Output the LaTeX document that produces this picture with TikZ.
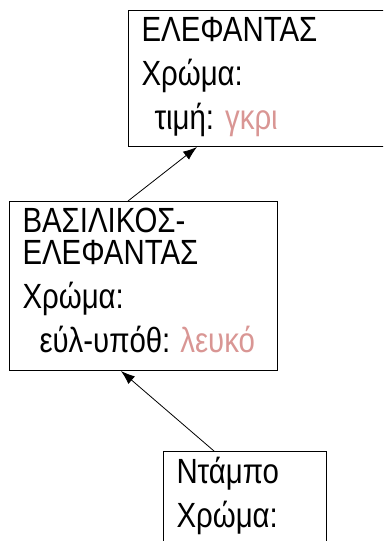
\documentclass[tikz,border=0pt]{standalone}
\usepackage{fontspec}
\setmainfont{Liberation Sans}[FakeStretch=0.84]
\usetikzlibrary{arrows.meta,positioning}
\definecolor{valuepink}{RGB}{217,150,148}

\begin{document}
\begin{tikzpicture}[x=1pt,y=-1pt,->,>={Latex[length=14pt,width=10pt]},
                    box/.style={draw,line width=1pt,anchor=north west,align=left,
                                inner ysep=0pt,inner xsep=13pt},
                    font=\fontsize{35}{44}\selectfont]

  \useasboundingbox (0,0) rectangle (383,541);
  \clip (0,0) rectangle (383,541);

  \node[box,text width=250pt,text height=31pt,text depth=105pt] (elefantas) at (128,10)
       {ΕΛΕΦΑΝΤΑΣ\\Χρώμα:\\\hspace*{13pt}τιμή:\hspace{11pt}\textcolor{valuepink}{γκρι}};
  \node[box,text width=242pt,text height=31pt,text depth=138pt] (vasilikos) at (9,201)
       {ΒΑΣΙΛΙΚΟΣ-\\[-12pt]ΕΛΕΦΑΝΤΑΣ\\Χρώμα:\\\hspace*{17pt}εύλ-υπόθ:\hspace{10pt}\textcolor{valuepink}{λευκό}};
  \node[box,text width=137pt,text height=32pt,text depth=120pt] (ntampo) at (163,451)
       {Ντάμπο\\Χρώμα:};

  \path[line width=0.8pt]
        ([xshift=119pt]vasilikos.north west) edge ([xshift=69pt]elefantas.south west)
        ([xshift=51pt]ntampo.north west)     edge ([xshift=112pt]vasilikos.south west);
\end{tikzpicture}
\end{document}
